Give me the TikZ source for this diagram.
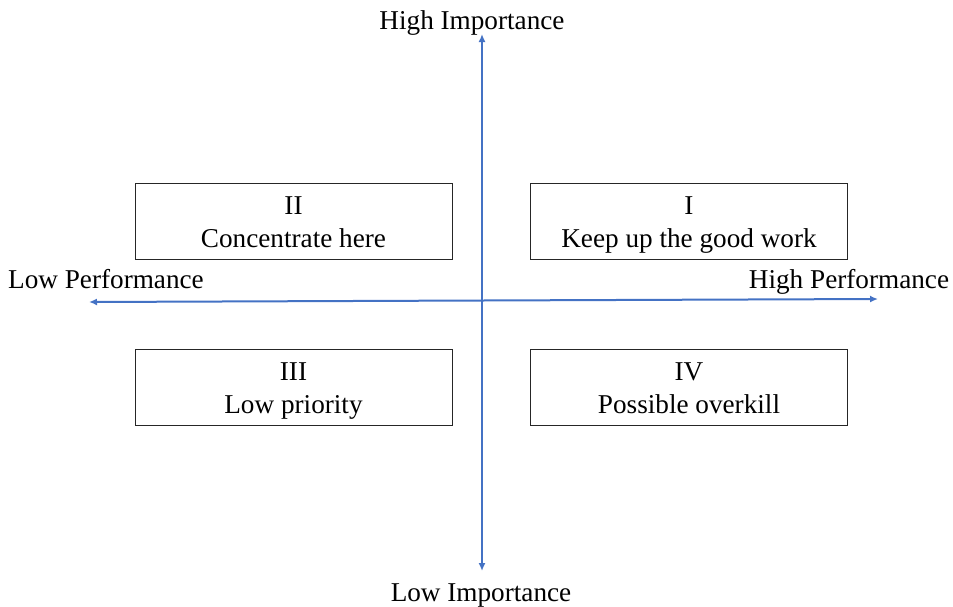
\documentclass[tikz,border=0pt]{standalone}
\usepackage{fontspec}
\setmainfont{Liberation Serif}
\usetikzlibrary{arrows.meta}
\definecolor{axisblue}{HTML}{4472C4}
\newcommand{\qstrut}{\rule[-6.7pt]{0pt}{33.4pt}}
\begin{document}
\begin{tikzpicture}[x=1pt,y=-1pt,
  quad/.style={draw=black!85,line width=0.9pt,minimum width=317pt,minimum height=76pt,align=center,inner sep=0pt,font=\fontsize{27.2}{33.4}\selectfont},
  lbl/.style={inner sep=0pt,anchor=base,font=\fontsize{27.2}{30}\selectfont},
  axis/.style={draw=axisblue,line width=2pt,-{Latex[length=8pt,width=7pt]}}]
\useasboundingbox (0,0) rectangle (953,606);
\coordinate (top) at (482,34);
\coordinate (bot) at (482,571);
\coordinate (left) at (89,302);
\coordinate (right) at (878,299);
\coordinate (c) at (482,300.5);
\draw[axis] (c) -- (top);
\draw[axis] (c) -- (bot);
\draw[axis] (c) -- (left);
\draw[axis] (c) -- (right);
\node[quad] (q2) at (293.5,221) {II\qstrut\\Concentrate here\qstrut};
\node[quad] (q1) at (689,221) {I\qstrut\\Keep up the good work\qstrut};
\node[quad] (q3) at (293.5,387) {III\qstrut\\Low priority\qstrut};
\node[quad] (q4) at (689,387) {IV\qstrut\\Possible overkill\qstrut};
\node[lbl] (hi) at (472,29) {High Importance};
\node[lbl] (li) at (481,601.5) {Low Importance};
\node[lbl] (lp) at (106,288.7) {Low Performance};
\node[lbl] (hp) at (849,288.7) {High Performance};
\end{tikzpicture}
\end{document}
